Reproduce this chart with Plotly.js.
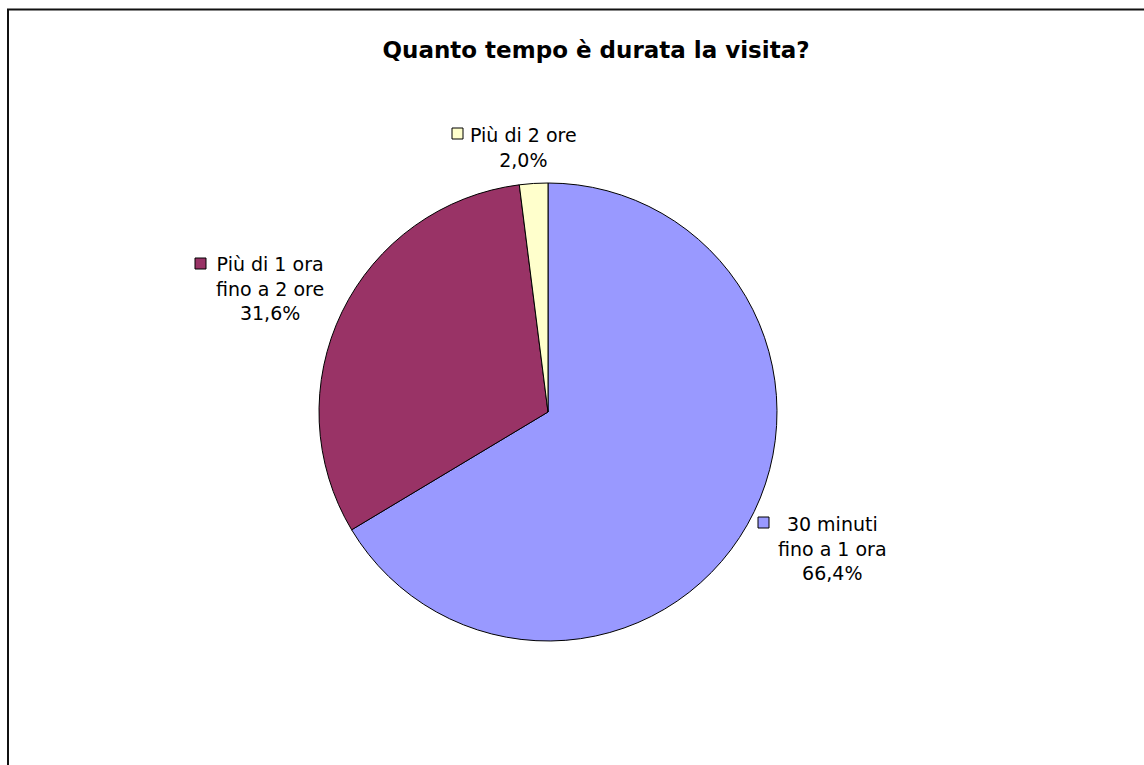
<!DOCTYPE html>
<html>
<head>
<meta charset="utf-8">
<script src="https://cdn.plot.ly/plotly-3.0.1.min.js"></script>
<style>html,body{margin:0;padding:0;background:#fff;}#chart{width:1144px;height:765px;}</style>
</head>
<body>
<div id="chart"></div>
<script>
var categories = ["30 minuti<br>fino a 1 ora", "Più di 1 ora<br>fino a 2 ore", "Più di 2 ore"];
var values = [66.4, 31.6, 2.0];
var valueLabels = ["66,4%", "31,6%", "2,0%"];
var colors = ["#9999FF", "#993366", "#FFFFCC"];

var W = 1144, H = 765;
function px(x) { return x / W; }
function py(y) { return 1 - y / H; }

// label placement (pixel positions in the picture)
var labelPos = [
  {x: 832, y: 548, sq: [758, 517]},
  {x: 270, y: 288, sq: [195, 258]},
  {x: 523, y: 147, sq: [452, 128]}
];

var trace = {
  type: "pie",
  labels: categories,
  values: values,
  sort: false,
  direction: "clockwise",
  rotation: 0,
  textinfo: "none",
  hoverinfo: "label+percent",
  marker: {colors: colors, line: {color: "#000000", width: 1}},
  domain: {x: [px(548 - 229), px(548 + 229)], y: [py(641), py(183)]},
  showlegend: false
};

var annotations = [];
var shapes = [];
for (var i = 0; i < categories.length; i++) {
  var p = labelPos[i];
  annotations.push({
    xref: "paper", yref: "paper",
    x: px(p.x), y: py(p.y),
    xanchor: "center", yanchor: "middle",
    align: "center",
    showarrow: false,
    text: categories[i] + "<br>" + valueLabels[i],
    font: {family: "DejaVu Sans, Verdana, sans-serif", size: 19, color: "#000"}
  });
  shapes.push({
    type: "rect", xref: "paper", yref: "paper",
    x0: px(p.sq[0]), x1: px(p.sq[0] + 11),
    y0: py(p.sq[1] + 11), y1: py(p.sq[1]),
    fillcolor: colors[i],
    line: {color: "#000", width: 1}
  });
}
// chart area border
shapes.push({
  type: "rect", xref: "paper", yref: "paper",
  x0: px(8), x1: 1.02, y0: -0.02, y1: py(9.5),
  fillcolor: "rgba(0,0,0,0)",
  line: {color: "#111", width: 2},
  layer: "below"
});

var layout = {
  width: W, height: H,
  margin: {l: 0, r: 0, t: 0, b: 0},
  paper_bgcolor: "#fff",
  title: {
    text: "<b>Quanto tempo è durata la visita?</b>",
    x: px(596), xanchor: "center",
    y: py(50), yanchor: "middle",
    font: {family: "DejaVu Sans, Verdana, sans-serif", size: 23, color: "#000"}
  },
  annotations: annotations,
  shapes: shapes
};

Plotly.newPlot("chart", [trace], layout, {displayModeBar: false, staticPlot: true});
</script>
</body>
</html>
